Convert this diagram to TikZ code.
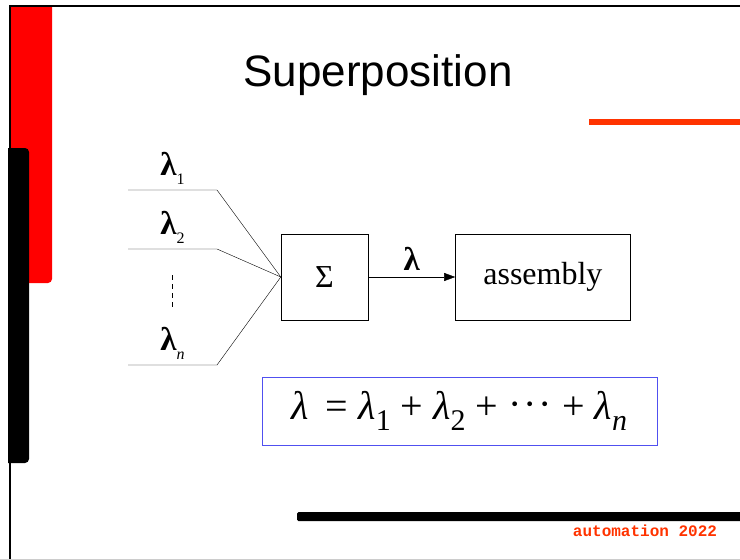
\documentclass[tikz,border=0pt]{standalone}
\usepackage{fontspec}
\setmainfont{Liberation Serif}
\newfontfamily\titlefont{Liberation Sans}
\newfontfamily\footfont{Liberation Mono}
\usetikzlibrary{arrows.meta,positioning}
\definecolor{barred}{RGB}{255,0,0}
\definecolor{accent}{RGB}{255,51,0}
\definecolor{eqblue}{RGB}{80,80,240}
\newcommand{\lsub}[2]{\raisebox{-0.28em}{\fontsize{#1}{#1}\selectfont #2}}

\begin{document}
\begin{tikzpicture}[x=1pt,y=-1pt,>={Triangle[length=11pt,width=8pt]},
  every node/.style={inner sep=0pt},
  block/.style={draw,minimum height=86pt,font=\fontsize{32}{34}\selectfont},
  lab/.style={font=\fontsize{33}{35}\selectfont\bfseries}]
  \useasboundingbox (0,0) rectangle (740,560);

  % Slide frame and bars
  \fill[barred] (9,6) -- (52,6) [rounded corners=4pt] -- (52,283) [sharp corners] -- (9,283) -- cycle;
  \fill (8,148) [rounded corners=4pt] -- (29,148) -- (29,463) [sharp corners] -- (8,463) -- cycle;
  \draw[line width=2pt] (9.5,560) -- (9.5,6) -- (740,6);
  \draw[black!20] (0,559.5) -- (740,559.5);
  \fill[accent] (589,119) rectangle (740,125);
  \fill[rounded corners=1.5pt] (297,512) rectangle (745,521);

  % Title and footer
  \node[font=\titlefont\fontsize{44}{48}\selectfont] (title) at (378,75) {Superposition};
  \node[font=\footfont\bfseries\fontsize{16}{18}\selectfont,text=accent] (foot) at (645,531) {automation 2022};

  % Blocks
  \node[block,minimum width=87pt] (sum) at (324.5,277) {Σ};
  \node[block,minimum width=175pt,right=87pt of sum] (asm) {assembly};
  \draw[->] (sum) -- node[lab,above=6pt] (out) {λ} (asm);

  % Inputs
  \coordinate (in1) at (128,190); \coordinate (k1) at (217,190);
  \coordinate (in2) at (128,249); \coordinate (k2) at (217,249);
  \coordinate (inn) at (128,365); \coordinate (kn) at (217,365);
  \draw (in1) -- node[lab,above=5pt] (lab1) {λ\lsub{16}{\mdseries 1}} (k1) -- (sum.west);
  \draw (in2) -- node[lab,above=5pt] (lab2) {λ\lsub{16}{\mdseries 2}} (k2) -- (sum.west);
  \draw (inn) -- node[lab,above=5pt] (labn) {λ\lsub{16}{\mdseries\itshape n}} (kn) -- (sum.west);
  \draw[dashed,dash pattern=on 5pt off 4pt] (172,275) -- (172,308);

  % Sum rule
  \node[draw=eqblue,minimum width=395pt,minimum height=68pt,font=\fontsize{40}{42}\selectfont] (eq) at (459.5,411)
    {\itshape λ\, \upshape = \itshape λ\lsub{30}{\upshape 1} \upshape + \itshape λ\lsub{30}{\upshape 2} \upshape + \raisebox{0.05em}{·\kern2pt·\kern2pt·} + \itshape λ\lsub{30}{n}};
\end{tikzpicture}
\end{document}
